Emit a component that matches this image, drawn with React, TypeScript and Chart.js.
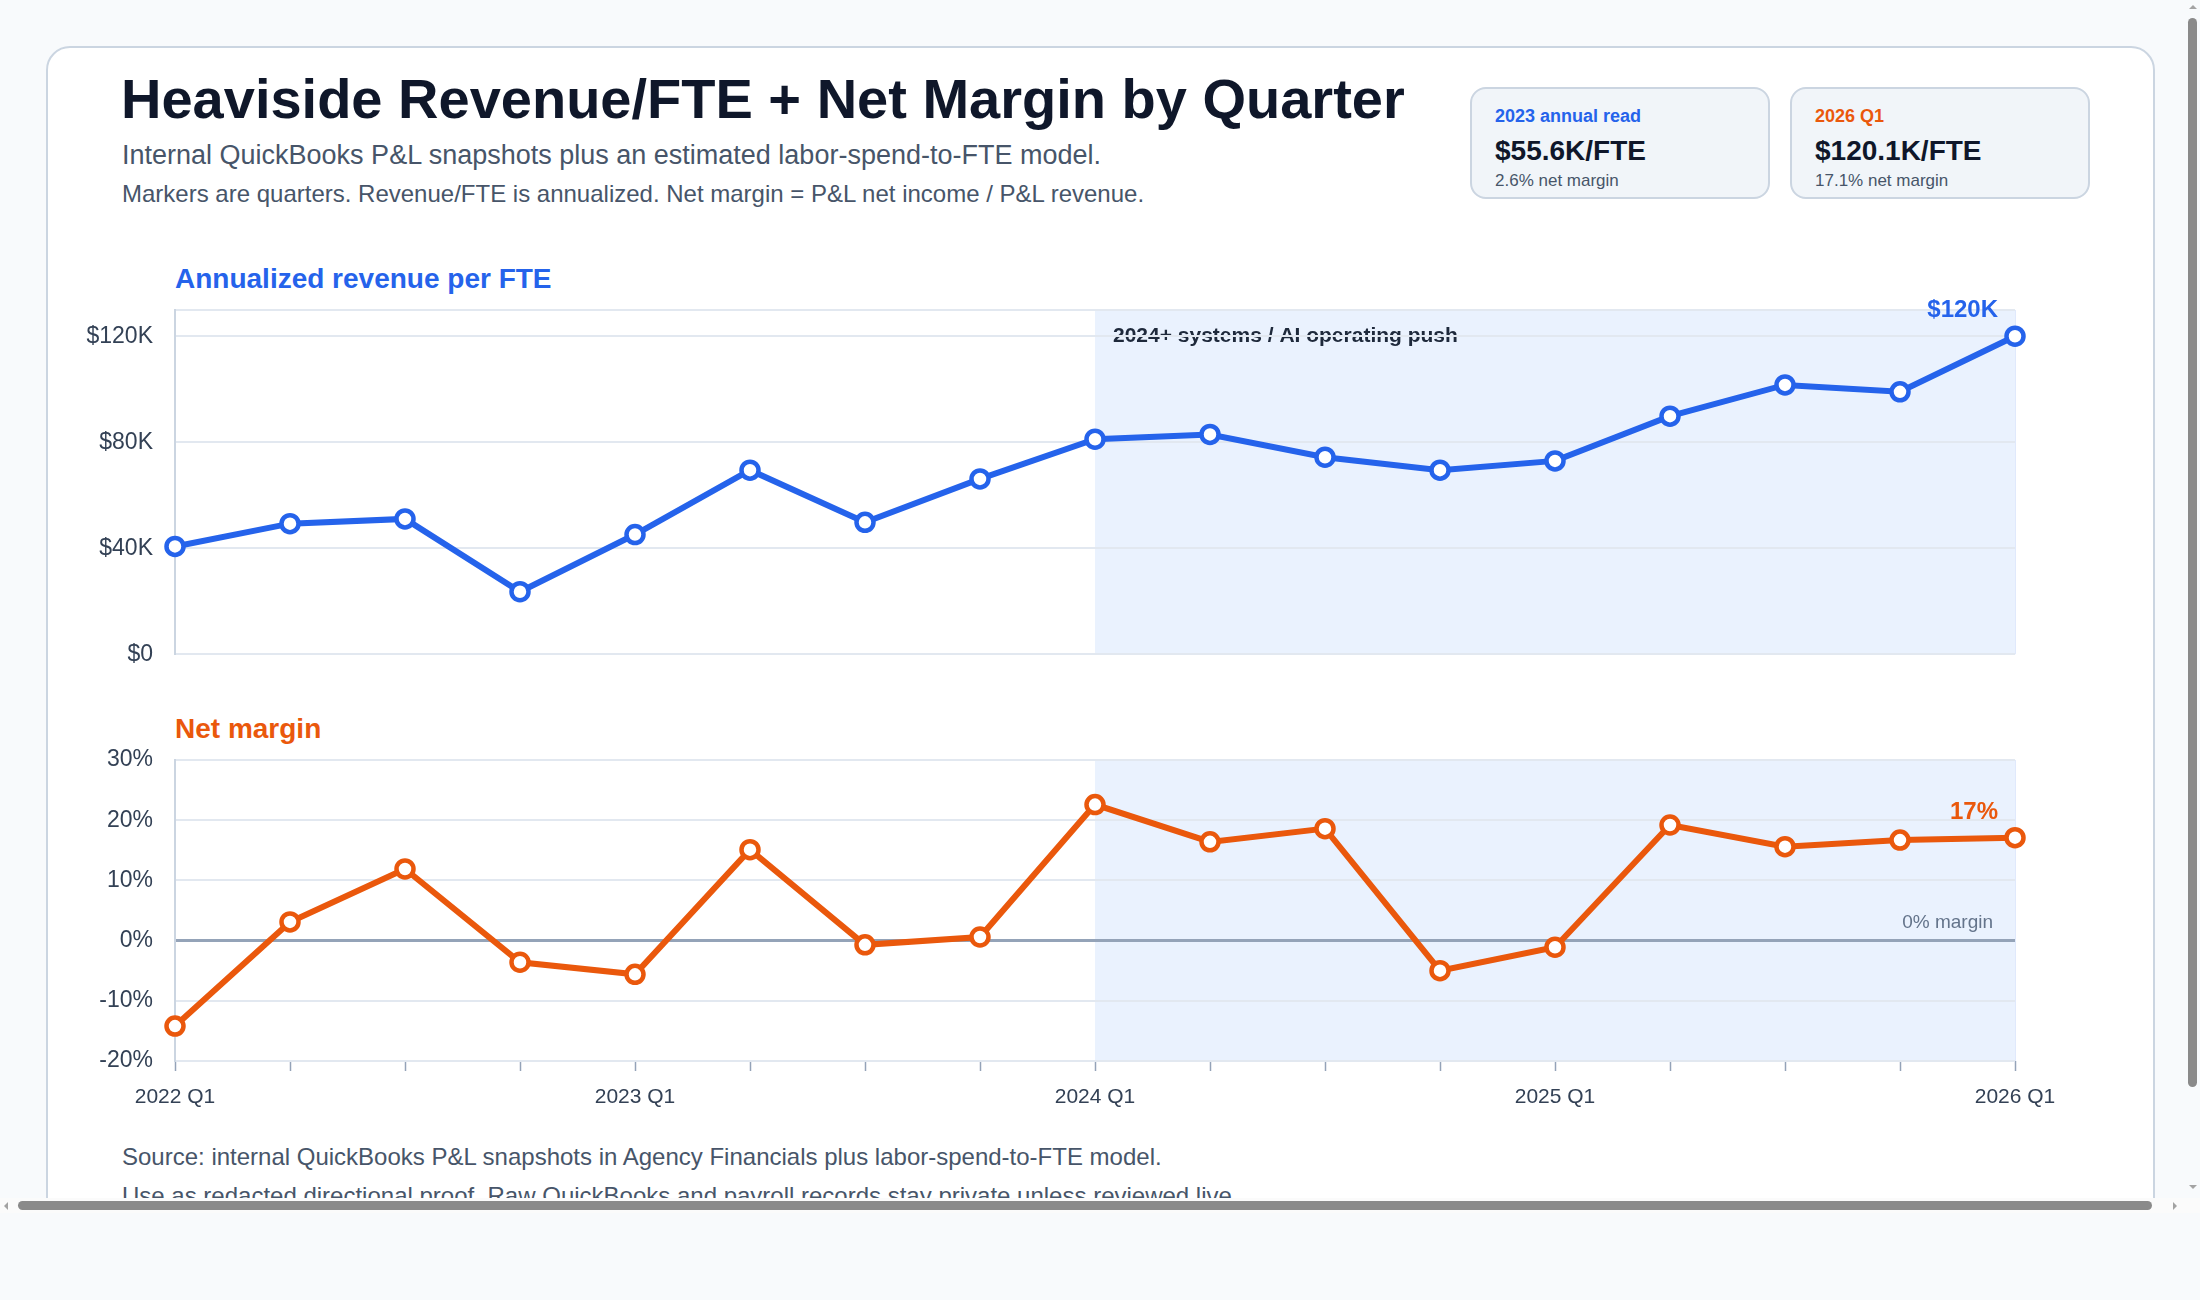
import React, { useEffect, useRef } from "react";
import { Chart, registerables } from "chart.js";

Chart.register(...registerables);

const FONT = "'Liberation Sans', Arial, Helvetica, sans-serif";
Chart.defaults.font.family = FONT;

// Quarterly series
const quarters = [
  "2022 Q1", "2022 Q2", "2022 Q3", "2022 Q4",
  "2023 Q1", "2023 Q2", "2023 Q3", "2023 Q4",
  "2024 Q1", "2024 Q2", "2024 Q3", "2024 Q4",
  "2025 Q1", "2025 Q2", "2025 Q3", "2025 Q4",
  "2026 Q1",
];
// Annualized revenue per FTE, $K
const revenuePerFteK = [
  40.7, 49.3, 51.1, 23.6,
  45.2, 69.5, 49.8, 66.2,
  81.2, 83.0, 74.4, 69.5,
  73.0, 89.9, 101.7, 99.1,
  120.1,
];
// Net margin, % of P&L revenue
const netMarginPct = [
  -14.2, 3.1, 11.9, -3.6,
  -5.6, 15.1, -0.7, 0.6,
  22.6, 16.4, 18.6, -5.0,
  -1.1, 19.2, 15.6, 16.7,
  17.1,
];
const revenueTicksK = [0, 40, 80, 120, 130];
const revenueLabelledTicksK = [0, 40, 80, 120];
const marginTicksPct = [-20, -10, 0, 10, 20, 30];
const pushStartQuarter = "2024 Q1";
const pushLabel = "2024+ systems / AI operating push";

const annualReadLabel = "2023 annual read";
const annualReadRevenueK = 55.6;
const annualReadMarginPct = 2.6;

const BLUE = "#2563eb";
const ORANGE = "#ea580c";
const GRID = "#e2e8f0";
const AXIS = "#cbd5e1";
const TICK_TEXT = "#334155";
const MUTED = "#475569";
const INK = "#0f172a";

const Y_AXIS_WIDTH = 100;

type TxtProps = {
  x: number;
  baseline: number;
  size: number;
  weight?: number;
  color: string;
  children: React.ReactNode;
};

// Absolutely placed text line, positioned by its baseline
function Txt({ x, baseline, size, weight = 400, color, children }: TxtProps) {
  return (
    <div
      style={{
        position: "absolute",
        left: x,
        top: baseline - 0.8465 * size,
        fontSize: size,
        lineHeight: `${size}px`,
        fontWeight: weight,
        color,
        whiteSpace: "nowrap",
        fontFamily: FONT,
      }}
    >
      {children}
    </div>
  );
}

// Shaded "push" window from 2024 Q1 to the end of the axis
const pushBandPlugin = (withLabel: boolean) => ({
  id: "pushBand",
  beforeDraw(chart: any) {
    const { ctx, chartArea, scales } = chart;
    const x0 = scales.x.getPixelForValue(quarters.indexOf(pushStartQuarter));
    ctx.save();
    ctx.fillStyle = "rgba(59,130,246,0.105)";
    ctx.fillRect(x0, chartArea.top, chartArea.right - x0, chartArea.bottom - chartArea.top);
    ctx.strokeStyle = "rgba(37,99,235,0.14)";
    ctx.lineWidth = 1;
    ctx.beginPath();
    ctx.moveTo(chartArea.right + 0.5, chartArea.top);
    ctx.lineTo(chartArea.right + 0.5, chartArea.bottom);
    ctx.stroke();
    if (withLabel) {
      ctx.fillStyle = "#1e293b";
      ctx.font = `700 21px ${FONT}`;
      ctx.textAlign = "left";
      ctx.textBaseline = "alphabetic";
      ctx.fillText(pushLabel, x0 + 18, chartArea.top + 32);
    }
    ctx.restore();
  },
});

// Value tag next to the final quarter
const endLabelPlugin = (text: string, color: string) => ({
  id: "endLabel",
  afterDraw(chart: any) {
    const { ctx } = chart;
    const meta = chart.getDatasetMeta(0);
    const pt = meta.data[meta.data.length - 1];
    ctx.save();
    ctx.fillStyle = color;
    ctx.font = `700 24px ${FONT}`;
    ctx.textAlign = "right";
    ctx.textBaseline = "alphabetic";
    ctx.fillText(text, pt.x - 17, pt.y - 19);
    ctx.restore();
  },
});

const zeroLabelPlugin = {
  id: "zeroLabel",
  afterDraw(chart: any) {
    const { ctx, chartArea, scales } = chart;
    const y0 = scales.y.getPixelForValue(0);
    ctx.save();
    ctx.fillStyle = "#64748b";
    ctx.font = `400 19px ${FONT}`;
    ctx.textAlign = "right";
    ctx.textBaseline = "alphabetic";
    ctx.fillText("0% margin", chartArea.right - 22, y0 - 13);
    ctx.restore();
  },
};

const lineDataset = (data: number[], color: string) => ({
  data,
  borderColor: color,
  backgroundColor: color,
  borderWidth: 6,
  pointRadius: 8.5,
  pointHoverRadius: 8.5,
  pointBorderWidth: 4.5,
  pointBackgroundColor: "#ffffff",
  pointBorderColor: color,
  tension: 0,
  clip: false as const,
});

const yTickFont = { size: 23 };
const xTickFont = { size: 21 };

function RevenueChart() {
  const ref = useRef<HTMLCanvasElement>(null);
  useEffect(() => {
    const lastRev = revenuePerFteK[revenuePerFteK.length - 1];
    const chart = new Chart(ref.current!, {
      type: "line",
      data: { labels: quarters, datasets: [lineDataset(revenuePerFteK, BLUE)] },
      options: {
        animation: false,
        responsive: true,
        maintainAspectRatio: false,
        events: [],
        layout: { padding: { left: 15, right: 65, top: 40, bottom: 35 } },
        plugins: { legend: { display: false }, tooltip: { enabled: false } },
        scales: {
          x: { display: false },
          y: {
            min: 0,
            max: 130,
            afterBuildTicks: (scale: any) => {
              scale.ticks = revenueTicksK.map((v) => ({ value: v }));
            },
            afterFit: (scale: any) => {
              scale.width = Y_AXIS_WIDTH;
            },
            grid: { color: GRID, lineWidth: 2, drawTicks: false },
            border: { display: true, color: AXIS, width: 2 },
            ticks: {
              padding: 22,
              color: TICK_TEXT,
              font: yTickFont,
              callback: (v: any) => {
                const n = Number(v);
                if (!revenueLabelledTicksK.includes(n)) return "";
                return n === 0 ? "$0" : `$${n}K`;
              },
            },
          },
        },
      },
      plugins: [pushBandPlugin(true), endLabelPlugin(`$${Math.round(lastRev)}K`, BLUE)],
    });
    return () => chart.destroy();
  }, []);
  return (
    <div style={{ position: "absolute", left: 60, top: 270, width: 2020, height: 420 }}>
      <canvas ref={ref} />
    </div>
  );
}

function MarginChart() {
  const ref = useRef<HTMLCanvasElement>(null);
  useEffect(() => {
    const lastMargin = netMarginPct[netMarginPct.length - 1];
    const chart = new Chart(ref.current!, {
      type: "line",
      data: { labels: quarters, datasets: [lineDataset(netMarginPct, ORANGE)] },
      options: {
        animation: false,
        responsive: true,
        maintainAspectRatio: false,
        events: [],
        layout: { padding: { left: 15, right: 65, top: 40, bottom: 9 } },
        plugins: { legend: { display: false }, tooltip: { enabled: false } },
        scales: {
          x: {
            afterFit: (scale: any) => {
              scale.height = 50;
            },
            grid: {
              drawOnChartArea: false,
              drawTicks: true,
              tickLength: 10,
              tickColor: "#94a3b8",
              tickWidth: 1.5,
            },
            border: { display: false },
            ticks: {
              autoSkip: false,
              maxRotation: 0,
              minRotation: 0,
              padding: 14,
              color: TICK_TEXT,
              font: xTickFont,
              callback: (_v: any, i: number) => (quarters[i].endsWith("Q1") ? quarters[i] : ""),
            },
          },
          y: {
            min: marginTicksPct[0],
            max: marginTicksPct[marginTicksPct.length - 1],
            afterBuildTicks: (scale: any) => {
              scale.ticks = marginTicksPct.map((v) => ({ value: v }));
            },
            afterFit: (scale: any) => {
              scale.width = Y_AXIS_WIDTH;
            },
            grid: {
              color: (c: any) => (c.tick && c.tick.value === 0 ? "#94a3b8" : GRID),
              lineWidth: (c: any) => (c.tick && c.tick.value === 0 ? 3 : 2),
              drawTicks: false,
            },
            border: { display: true, color: AXIS, width: 2 },
            ticks: {
              padding: 22,
              color: TICK_TEXT,
              font: yTickFont,
              callback: (v: any) => `${v}%`,
            },
          },
        },
      },
      plugins: [pushBandPlugin(false), zeroLabelPlugin, endLabelPlugin(`${Math.round(lastMargin)}%`, ORANGE)],
    });
    return () => chart.destroy();
  }, []);
  return (
    <div style={{ position: "absolute", left: 60, top: 720, width: 2020, height: 400 }}>
      <canvas ref={ref} />
    </div>
  );
}

type KpiProps = { x: number; label: string; labelColor: string; value: string; sub: string };

function Kpi({ x, label, labelColor, value, sub }: KpiProps) {
  return (
    <>
      <div
        style={{
          position: "absolute",
          left: x,
          top: 87,
          width: 300,
          height: 112,
          boxSizing: "border-box",
          border: `2px solid ${AXIS}`,
          borderRadius: 16,
          background: "#f1f5f9",
        }}
      />
      <Txt x={x + 25} baseline={122} size={18} weight={700} color={labelColor}>{label}</Txt>
      <Txt x={x + 25} baseline={161} size={28} weight={700} color={INK}>{value}</Txt>
      <Txt x={x + 25} baseline={186} size={17} color={MUTED}>{sub}</Txt>
    </>
  );
}

// Classic scrollbar chrome around the clipped viewport
const THUMB = "#8a8a8a";
const ARROW = "#a3a3a3";

function Arrow({ x, y, dir }: { x: number; y: number; dir: "up" | "down" | "left" | "right" }) {
  const s = 4;
  const base: React.CSSProperties = { position: "absolute", left: x - s, top: y - s, width: 0, height: 0 };
  const t = "transparent";
  const b =
    dir === "up"
      ? { borderLeft: `${s}px solid ${t}`, borderRight: `${s}px solid ${t}`, borderBottom: `${s}px solid ${ARROW}` }
      : dir === "down"
      ? { borderLeft: `${s}px solid ${t}`, borderRight: `${s}px solid ${t}`, borderTop: `${s}px solid ${ARROW}` }
      : dir === "left"
      ? { borderTop: `${s}px solid ${t}`, borderBottom: `${s}px solid ${t}`, borderRight: `${s}px solid ${ARROW}` }
      : { borderTop: `${s}px solid ${t}`, borderBottom: `${s}px solid ${t}`, borderLeft: `${s}px solid ${ARROW}` };
  return <div style={{ ...base, ...b }} />;
}

function Scrollbars() {
  return (
    <>
      <div style={{ position: "fixed", left: 2185, top: 0, width: 15, height: 1198, background: "#f8fafc" }}>
        <div style={{ position: "absolute", left: 3, top: 18, width: 9, height: 1069, borderRadius: 5, background: THUMB }} />
        <Arrow x={7.5} y={9} dir="up" />
        <Arrow x={7.5} y={1189} dir="down" />
      </div>
      <div style={{ position: "fixed", left: 0, top: 1198, width: 2200, height: 15, background: "#fbfbfb" }}>
        <div style={{ position: "absolute", left: 18, top: 3, width: 2134, height: 9, borderRadius: 5, background: THUMB }} />
        <Arrow x={8} y={7.5} dir="left" />
        <Arrow x={2177} y={7.5} dir="right" />
      </div>
    </>
  );
}

export default function App() {
  const lastIdx = quarters.length - 1;
  return (
    <>
      <div style={{ position: "fixed", inset: 0, background: "#f8fafc" }} />
      <div
        style={{
          position: "fixed",
          left: 0,
          top: 0,
          width: 2185,
          height: 1198,
          overflow: "hidden",
          background: "#f8fafc",
          fontFamily: FONT,
        }}
      >
        <div style={{ position: "relative", width: 2210, height: 1310 }}>
          <div
            style={{
              position: "absolute",
              left: 46,
              top: 46,
              width: 2109,
              height: 1240,
              boxSizing: "border-box",
              border: `2px solid ${AXIS}`,
              borderRadius: 24,
              background: "#ffffff",
            }}
          />
          <Txt x={121} baseline={118} size={56} weight={700} color={INK}>
            Heaviside Revenue/FTE + Net Margin by Quarter
          </Txt>
          <Txt x={122} baseline={165} size={27} color={MUTED}>
            Internal QuickBooks P&amp;L snapshots plus an estimated labor-spend-to-FTE model.
          </Txt>
          <Txt x={122} baseline={202} size={24} color={MUTED}>
            Markers are quarters. Revenue/FTE is annualized. Net margin = P&amp;L net income / P&amp;L revenue.
          </Txt>

          <Kpi
            x={1470}
            label={annualReadLabel}
            labelColor={BLUE}
            value={`$${annualReadRevenueK.toFixed(1)}K/FTE`}
            sub={`${annualReadMarginPct.toFixed(1)}% net margin`}
          />
          <Kpi
            x={1790}
            label={quarters[lastIdx]}
            labelColor={ORANGE}
            value={`$${revenuePerFteK[lastIdx].toFixed(1)}K/FTE`}
            sub={`${netMarginPct[lastIdx].toFixed(1)}% net margin`}
          />

          <Txt x={175} baseline={289} size={28} weight={700} color={BLUE}>
            Annualized revenue per FTE
          </Txt>
          <RevenueChart />

          <Txt x={175} baseline={739} size={28} weight={700} color={ORANGE}>
            Net margin
          </Txt>
          <MarginChart />

          <Txt x={122} baseline={1165} size={24} color={MUTED}>
            Source: internal QuickBooks P&amp;L snapshots in Agency Financials plus labor-spend-to-FTE model.
          </Txt>
          <Txt x={122} baseline={1204} size={24} color={MUTED}>
            Use as redacted directional proof. Raw QuickBooks and payroll records stay private unless reviewed live.
          </Txt>
        </div>
      </div>
      <Scrollbars />
    </>
  );
}
